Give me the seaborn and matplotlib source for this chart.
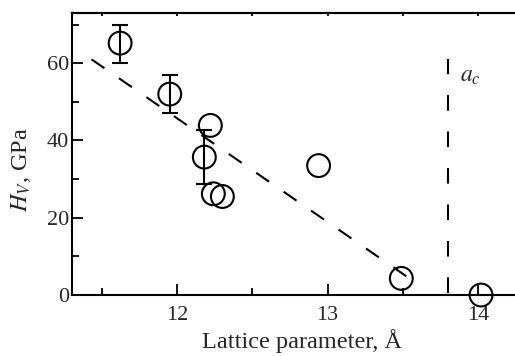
import matplotlib
matplotlib.use("Agg")
import matplotlib.pyplot as plt
import seaborn as sns
import numpy as np
import pandas as pd

# Data
lattice = [11.62, 11.95, 12.22, 12.18, 12.24, 12.30, 12.94, 13.49, 14.02]
hardness = [65.2, 52.0, 43.9, 35.7, 26.2, 25.5, 33.5, 4.3, 0.0]
err_x = [11.62, 11.95, 12.18]
err_y = [65.2, 52.0, 35.7]
err_lo = [5.2, 5.0, 7.0]
err_hi = [4.8, 5.0, 7.0]
fit_x = [11.43, 13.57]
fit_y = [61.0, 3.6]
ac_x = [13.80, 13.80]
ac_y = [0.5, 61.0]
xticks = [12, 13, 14]
yticks = [0, 20, 40, 60]

sns.set_theme(style="ticks")
plt.rcParams['font.family'] = ['Liberation Serif', 'DejaVu Serif']
plt.rcParams['mathtext.fontset'] = 'stix'

fig = plt.figure(figsize=(5.15, 3.56), dpi=100)
ax = fig.add_axes([0.1398, 0.1713, 0.8602, 0.7922])

df = pd.DataFrame({"x": lattice, "y": hardness})
ax.errorbar(err_x, err_y, yerr=[err_lo, err_hi], fmt='none', ecolor='black',
            elinewidth=1.5, capsize=6, capthick=1.5, zorder=2)
sns.lineplot(x=fit_x, y=fit_y, ax=ax, color='black', lw=1.5,
             estimator=None, zorder=1)
ax.lines[-1].set_dashes([7.5, 8.5])
sns.lineplot(x=ac_x, y=ac_y, ax=ax, color='black', lw=1.5, zorder=1,
             estimator=None, orient='y')
ax.lines[-1].set_dashes([7.5, 10])
sns.scatterplot(data=df, x="x", y="y", ax=ax, marker='o', s=270,
                facecolors='none', edgecolor='black', linewidth=1.5,
                zorder=3, clip_on=False)

ax.text(13.88, 56.5, r'$a_c$', fontsize=17, ha='left', va='center')

ax.set_xlim(11.3, 14.246)
ax.set_ylim(0, 73)
ax.set_xticks(xticks)
ax.set_xticks([11.5, 12.5, 13.5], minor=True)
ax.set_yticks(yticks)
ax.set_yticks([10, 30, 50, 70], minor=True)
ax.tick_params(axis='both', which='major', direction='in', length=8, width=1.3,
               labelsize=16, color='black')
ax.tick_params(axis='both', which='minor', direction='in', length=5, width=1.3,
               color='black')
ax.tick_params(axis='x', which='both', top=False)
ax.tick_params(axis='x', pad=8)
ax.tick_params(axis='y', pad=2)
for s in ['left', 'bottom', 'top']:
    ax.spines[s].set_linewidth(1.5)
    ax.spines[s].set_color('black')
ax.spines['right'].set_visible(False)

sec = ax.secondary_xaxis('top')
sec.set_xticks(xticks)
sec.set_xticks([11.5, 12.5, 13.5], minor=True)
sec.tick_params(which='both', direction='in', length=2.5, width=1.3,
                labeltop=False, color='black')
sec.spines['top'].set_linewidth(1.5)

ax.set_xlabel('Lattice parameter, Å', fontsize=17.5)
ax.set_ylabel(r'$H_V$, GPa', fontsize=17.5)
ax.xaxis.set_label_coords(0.519, -0.12)
ax.xaxis.label.set_va('top')
ax.yaxis.set_label_coords(-0.115, 0.443)
ax.yaxis.label.set_va('center')

fig.savefig('out.png', dpi=100)
